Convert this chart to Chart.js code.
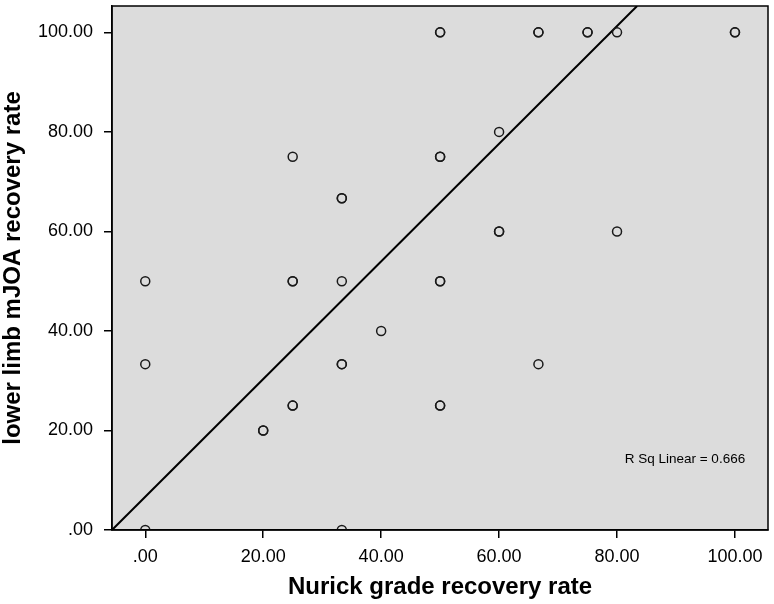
<!DOCTYPE html>
<html>
<head>
<meta charset="utf-8">
<script src="https://cdn.jsdelivr.net/npm/chart.js@4.4.1/dist/chart.umd.min.js"></script>
<style>
  body { margin: 0; background: #fff; }
</style>
</head>
<body>
<canvas id="myChart" width="774" height="604"></canvas>
<script>
// data (overlapping cases listed twice)
var nurick = [0, 0, 0, 20, 20, 25, 25, 25, 25, 25, 33.33, 33.33, 33.33, 33.33, 33.33, 33.33, 40,
  50, 50, 50, 50, 50, 50, 50, 50, 60, 60, 60, 66.67, 66.67, 66.67, 75, 75, 80, 80, 100, 100];
var mjoa = [50, 33.33, 0, 20, 20, 75, 50, 50, 25, 25, 66.67, 66.67, 50, 33.33, 33.33, 0, 40,
  100, 100, 75, 75, 50, 50, 25, 25, 80, 60, 60, 100, 100, 33.33, 100, 100, 100, 60, 100, 100];

// fit line, end points
var fitX = [-5.64, 83.4];
var fitY = [0, 105.3];
var rSqText = 'R Sq Linear = 0.666';
var rSqPos = [81.3, 13.5];

var tickVals = [0, 20, 40, 60, 80, 100];
var xRange = [-5.64, 105.6];
var yRange = [0, 105.3];

function fmt(v) {
  return v === 0 ? '.00' : v.toFixed(2);
}

var pts = [];
for (var i = 0; i < nurick.length; i++) {
  pts.push({ x: nurick[i], y: mjoa[i] });
}
var fitPts = [{ x: fitX[0], y: fitY[0] }, { x: fitX[1], y: fitY[1] }];

var areaPlugin = {
  id: 'area',
  beforeDraw: function(chart) {
    var a = chart.chartArea, ctx = chart.ctx;
    ctx.save();
    ctx.fillStyle = '#dcdcdc';
    ctx.fillRect(a.left, a.top, a.right - a.left, a.bottom - a.top);
    ctx.restore();
  },
  afterDraw: function(chart) {
    var a = chart.chartArea, ctx = chart.ctx;
    ctx.save();
    ctx.strokeStyle = '#000';
    ctx.lineWidth = 1.5;
    ctx.strokeRect(a.left, a.top, a.right - a.left, a.bottom - a.top);
    // r square note
    ctx.fillStyle = '#000';
    ctx.font = '13.5px "Liberation Sans", Arial, sans-serif';
    ctx.textAlign = 'left';
    ctx.textBaseline = 'alphabetic';
    ctx.fillText(rSqText, chart.scales.x.getPixelForValue(rSqPos[0]), chart.scales.y.getPixelForValue(rSqPos[1]));
    ctx.restore();
  }
};

var ctx = document.getElementById('myChart');
var chart = new Chart(ctx, {
  type: 'scatter',
  data: {
    datasets: [{
      data: pts,
      pointStyle: 'circle',
      pointRadius: 4.5,
      pointBorderWidth: 1.5,
      borderColor: '#1a1a1a',
      backgroundColor: 'rgba(0,0,0,0)',
      clip: 0
    }, {
      type: 'line',
      data: fitPts,
      borderColor: '#000',
      borderWidth: 2,
      pointRadius: 0,
      fill: false,
      clip: 0
    }]
  },
  options: {
    responsive: false,
    animation: false,
    events: [],
    layout: { padding: { top: 3, right: 5, left: 0, bottom: 0 } },
    plugins: {
      legend: { display: false },
      tooltip: { enabled: false }
    },
    scales: {
      x: {
        type: 'linear',
        min: xRange[0],
        max: xRange[1],
        afterBuildTicks: function(s) {
          s.ticks = tickVals.map(function(v) { return { value: v }; });
        },
        afterFit: function(s) {
          s.height = 74;
          s.paddingLeft = 0;
          s.paddingRight = 0;
        },
        grid: { drawOnChartArea: false, drawTicks: true, tickLength: 8, color: '#000', lineWidth: 1.5 },
        border: { display: true, color: '#000', width: 1.5 },
        ticks: {
          color: '#000',
          padding: 8,
          maxRotation: 0,
          font: { family: '"Liberation Sans", Arial, sans-serif', size: 18 },
          callback: function(v) { return fmt(v); }
        },
        title: {
          display: true,
          text: 'Nurick grade recovery rate',
          color: '#000',
          padding: { top: 0, bottom: 5 },
          font: { family: '"Liberation Sans", Arial, sans-serif', size: 24, weight: 'bold', lineHeight: 1 }
        }
      },
      y: {
        type: 'linear',
        min: yRange[0],
        max: yRange[1],
        afterBuildTicks: function(s) {
          s.ticks = tickVals.map(function(v) { return { value: v }; });
        },
        afterFit: function(s) {
          s.width = 112;
          s.paddingTop = 0;
          s.paddingBottom = 0;
        },
        grid: { drawOnChartArea: false, drawTicks: true, tickLength: 8, color: '#000', lineWidth: 1.5 },
        border: { display: true, color: '#000', width: 1.5 },
        ticks: {
          color: '#000',
          padding: 11,
          font: { family: '"Liberation Sans", Arial, sans-serif', size: 18 },
          callback: function(v) { return fmt(v); }
        },
        title: {
          display: true,
          text: 'lower limb mJOA recovery rate',
          color: '#000',
          padding: { top: 1, bottom: 0 },
          font: { family: '"Liberation Sans", Arial, sans-serif', size: 24, weight: 'bold', lineHeight: 1 }
        }
      }
    }
  },
  plugins: [areaPlugin]
});
</script>
</body>
</html>
